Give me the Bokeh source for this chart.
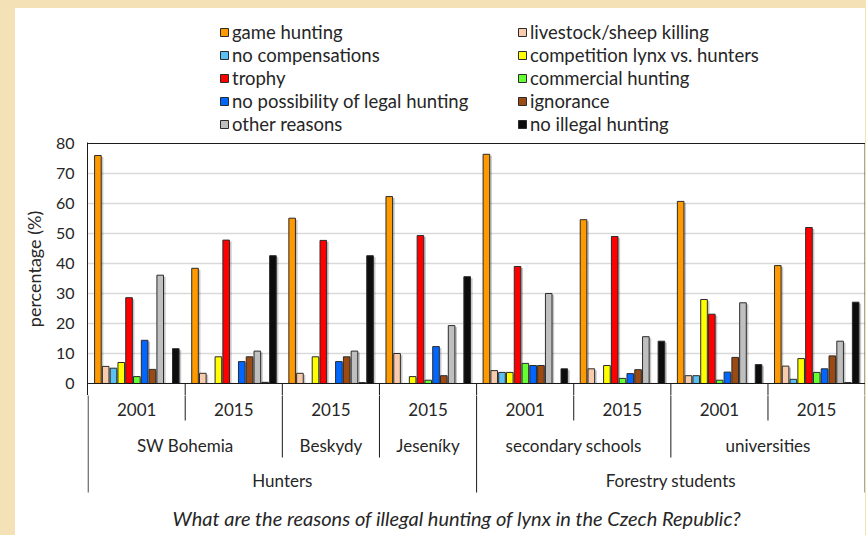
from bokeh.plotting import figure
from bokeh.layouts import column
from bokeh.models import Range1d, FixedTicker, Legend, LegendItem, ColumnDataSource
from bokeh.core.properties import value
from bokeh.embed import file_html
from bokeh.resources import INLINE

# ---------------- data ----------------
years = ["2001", "2015", "2015", "2015", "2001", "2015", "2001", "2015"]
regions = ["SW Bohemia", "Beskydy", "Jeseníky", "secondary schools", "universities"]
region_spans = [2, 1, 1, 2, 2]
populations = ["Hunters", "Forestry students"]
population_spans = [4, 4]

series_names = [
    "game hunting", "livestock/sheep killing", "no compensations",
    "competition lynx vs. hunters", "trophy", "commercial hunting",
    "no possibility of legal hunting", "ignorance", "other reasons",
    "", "no illegal hunting",
]
game_hunting = [76.0, 38.4, 55.1, 62.3, 76.4, 54.6, 60.7, 39.3]
livestock_killing = [5.7, 3.4, 3.4, 10.0, 4.3, 4.9, 2.6, 5.8]
no_compensations = [5.1, 0.0, 0.0, 0.0, 3.7, 0.0, 2.6, 1.4]
competition = [7.0, 8.9, 8.9, 2.3, 3.7, 6.0, 28.0, 8.3]
trophy = [28.6, 47.8, 47.7, 49.3, 39.0, 49.0, 23.1, 52.0]
commercial_hunting = [2.3, 0.0, 0.0, 1.1, 6.7, 1.7, 1.1, 3.7]
no_legal_possibility = [14.4, 7.3, 7.3, 12.3, 6.0, 3.3, 3.8, 4.9]
ignorance = [4.7, 8.9, 8.9, 2.6, 6.0, 4.6, 8.7, 9.2]
other_reasons = [36.1, 10.8, 10.8, 19.3, 30.0, 15.6, 26.9, 14.1]
unlabelled = [0.0, 0.4, 0.3, 0.0, 0.0, 0.0, 0.0, 0.3]
no_illegal_hunting = [11.6, 42.6, 42.6, 35.6, 4.9, 14.1, 6.3, 27.1]

series_values = [game_hunting, livestock_killing, no_compensations, competition,
                 trophy, commercial_hunting, no_legal_possibility, ignorance,
                 other_reasons, unlabelled, no_illegal_hunting]
colors = ["#FF9900", "#F8CBAD", "#5BC0F2", "#FFFF00", "#FF0000", "#66FF33",
          "#0066FF", "#9A4A12", "#BFBFBF", "#1A1A1A", "#0D0D0D"]
legend_col1 = [0, 2, 4, 6, 8]
legend_col2 = [1, 3, 5, 7, 10]

y_ticks = [0, 10, 20, 30, 40, 50, 60, 70, 80]
title_text = "What are the reasons of illegal hunting of lynx in the Czech Republic?"
y_label = "percentage (%)"

# ---------------- layout constants ----------------
FONT = "Lato"
TXT = "#262626"
LINE = "#1A1A1A"
W = 850
n_groups = len(years)
slot0, slot_step, bar_w = 0.101, 0.0802, 0.068
Y_LOW = -4.0

xr = Range1d(-0.006, 8.004)


def strip(fig):
    fig.outline_line_color = None
    fig.grid.visible = False
    fig.background_fill_color = "white"
    fig.border_fill_color = "white"


# ---------- legend strip ----------
leg = figure(width=W, height=126, x_range=Range1d(0, 1), y_range=Range1d(0, 1),
             output_backend="svg", toolbar_location=None,
             x_axis_location=None, y_axis_location=None,
             min_border_left=72, min_border_right=0, min_border_top=0, min_border_bottom=0)
strip(leg)
dummy = []
for i in range(len(series_names)):
    dummy.append(leg.vbar(x=[10], top=[10], width=0.1, fill_color=colors[i],
                          line_color="#2B2B2B", line_width=1))


def add_legend(idx, loc):
    lg = Legend(items=[LegendItem(label=series_names[i], renderers=[dummy[i]]) for i in idx],
                location=loc, orientation="vertical",
                glyph_width=10, glyph_height=10, label_height=21, spacing=1,
                label_standoff=3, padding=0, margin=0,
                border_line_color=None, background_fill_alpha=0,
                label_text_font=FONT, label_text_font_size="18.5px",
                label_text_color=TXT)
    leg.add_layout(lg, "center")


add_legend(legend_col1, (132, -1))
add_legend(legend_col2, (430, -1))

# ---------- main plot ----------
p = figure(width=W, height=261, x_range=xr, y_range=Range1d(Y_LOW, 80.33),
           output_backend="svg", toolbar_location=None, x_axis_location=None,
           min_border_left=72, min_border_right=0, min_border_top=8,
           min_border_bottom=0)
p.outline_line_color = None
p.background_fill_color = "white"
p.border_fill_color = "white"
p.xgrid.visible = False
p.ygrid.ticker = FixedTicker(ticks=[t for t in y_ticks if 0 < t < 80])
p.ygrid.grid_line_color = "#D9D9D9"
p.ygrid.grid_line_width = 1.5

ax = p.yaxis[0]
ax.ticker = FixedTicker(ticks=y_ticks)
ax.major_tick_out = 0
ax.major_tick_in = 0
ax.minor_tick_out = 0
ax.minor_tick_in = 0
ax.major_label_standoff = 13
ax.major_label_text_font = FONT
ax.major_label_text_font_size = "16px"
ax.major_label_text_color = TXT
ax.axis_line_color = LINE
ax.axis_label = y_label
ax.axis_label_text_font = FONT
ax.axis_label_text_font_size = "18px"
ax.axis_label_text_font_style = "normal"
ax.axis_label_text_color = TXT
ax.axis_label_standoff = 8

for i, vals in enumerate(series_values):
    xs = [g + slot0 + slot_step * i for g in range(n_groups)]
    src = ColumnDataSource(dict(x=xs, top=vals,
                                sx=[x + 0.022 for x in xs],
                                stop=[max(v - 0.5, 0) for v in vals]))
    p.vbar(x="sx", top="stop", width=bar_w, source=src,
           fill_color="#000000", fill_alpha=0.22, line_color=None)
    p.vbar(x="x", top="top", width=bar_w, source=src,
           fill_color=colors[i], line_color="#2B2B2B", line_width=1)

# frame: top line, baseline, right edge, and start of the category separators
p.segment(x0=[0, 0, 8], y0=[80, 0, 80], x1=[8, 8, 8], y1=[80, 0, Y_LOW - 1],
          line_color=LINE, line_width=1)
p.segment(x0=list(range(1, n_groups)), y0=[0] * (n_groups - 1),
          x1=list(range(1, n_groups)), y1=[Y_LOW - 1] * (n_groups - 1),
          line_color=LINE, line_width=1)

# ---------- category axis strip ----------
q = figure(width=W, height=140, x_range=xr, y_range=Range1d(152, 12),
           output_backend="svg", toolbar_location=None,
           x_axis_location=None, y_axis_location=None,
           min_border_left=72, min_border_right=0, min_border_top=0,
           min_border_bottom=0)
strip(q)

row_year, row_region, row_pop, row_title = 26, 62, 97, 134
sep_year, sep_region, sep_pop = 37, 74, 109

region_bounds, pop_bounds = set(), set()
c = 0
for s in region_spans:
    c += s
    region_bounds.add(c)
c = 0
for s in population_spans:
    c += s
    pop_bounds.add(c)

sx0, sy1 = [0], [sep_pop]
for b in range(1, n_groups + 1):
    sx0.append(b)
    if b in pop_bounds:
        sy1.append(sep_pop)
    elif b in region_bounds:
        sy1.append(sep_region)
    else:
        sy1.append(sep_year)
q.segment(x0=sx0, y0=[0] * len(sx0), x1=sx0, y1=sy1, line_color=LINE, line_width=1)

lab_x, lab_y, lab_t = [], [], []
for g, yr in enumerate(years):
    lab_x.append(g + 0.5); lab_y.append(row_year); lab_t.append(yr)
c = 0
for name, s in zip(regions, region_spans):
    lab_x.append(c + s / 2); lab_y.append(row_region); lab_t.append(name)
    c += s
c = 0
for name, s in zip(populations, population_spans):
    lab_x.append(c + s / 2); lab_y.append(row_pop); lab_t.append(name)
    c += s
q.text(x=lab_x, y=lab_y, text=lab_t, text_font=value(FONT),
       text_font_size="17px", text_color=TXT, text_align="center",
       text_baseline="middle")
q.text(x=[3.797], y=[row_title], text=[title_text], text_font=value(FONT),
       text_font_size="20px", text_font_style="italic", text_color=TXT,
       text_align="center", text_baseline="middle")

layout = column(leg, p, q, spacing=0)
layout.margin = (8, 0, 0, 15)
layout.styles = {"background-color": "white"}

html = file_html(layout, INLINE, title="lynx")
html = html.replace("</head>", "<style>body{background:#F5E1B6;}</style></head>", 1)
open("out.html", "w").write(html)
